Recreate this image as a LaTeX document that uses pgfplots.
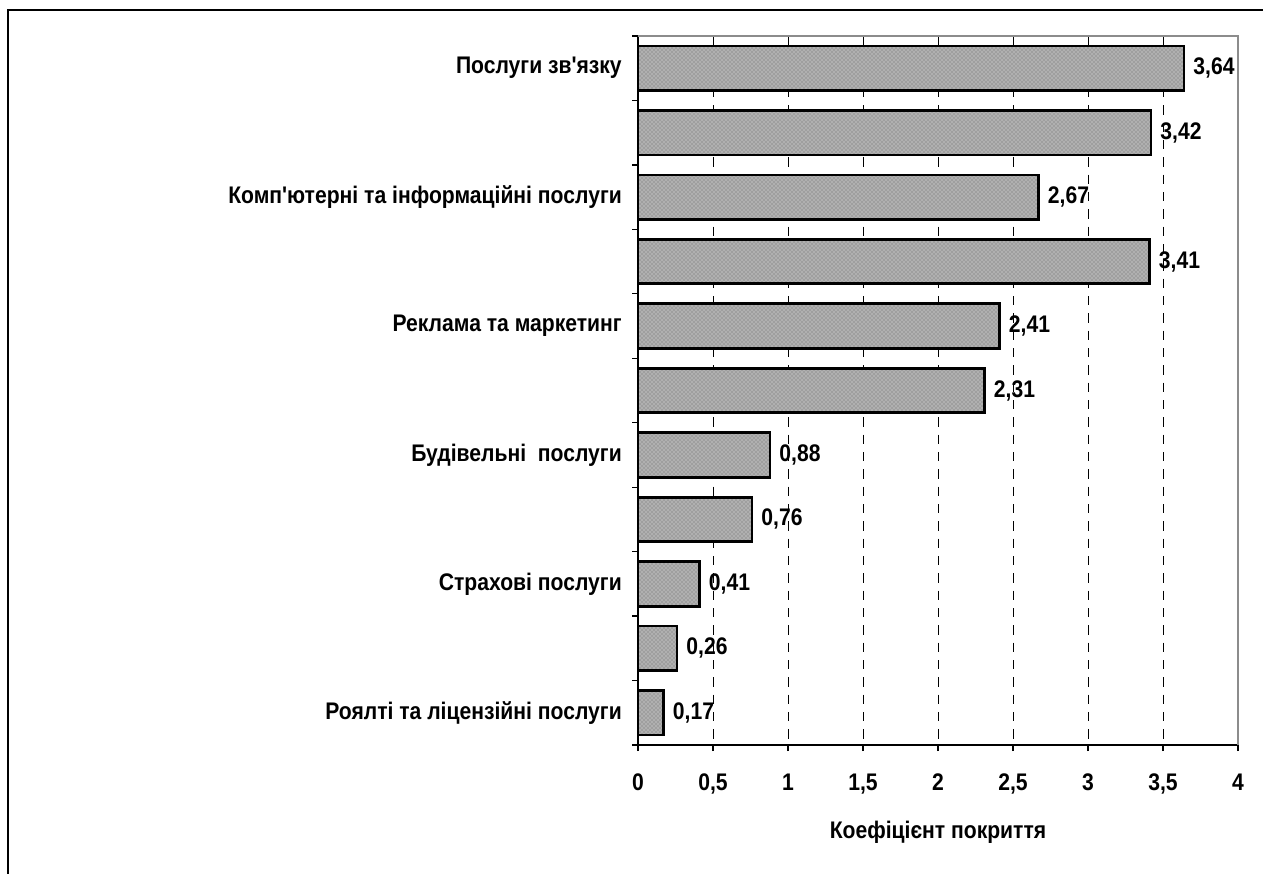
\documentclass[border=0pt]{standalone}
\usepackage{fontspec}
\setmainfont{Liberation Sans}[FakeStretch=0.88, Ligatures=TeXOff]
\usepackage{pgfplots}
\pgfplotsset{compat=1.18}
\usetikzlibrary{patterns}
\pgfplotstableread{
idx val
0 3.64
1 3.42
2 2.67
3 3.41
4 2.41
5 2.31
6 0.88
7 0.76
8 0.41
9 0.26
10 0.17
}\datatable
\begin{document}
\fontsize{18}{21}\selectfont\bfseries
\begin{tikzpicture}
\useasboundingbox (0pt,0pt) rectangle (947.25pt,655.5pt);
\draw[line width=1.2pt] (6pt,-40pt) -- (6pt,648pt) -- (990pt,648pt);
\begin{axis}[
  at={(478.5pt,96.75pt)}, anchor=south west,
  scale only axis, width=450pt, height=531.75pt,
  xmin=0, xmax=4, ymin=-0.5, ymax=10.5, y dir=reverse,
  xbar, bar width=0.69,
  axis x line*=bottom, axis y line*=left,
  axis line style={line width=1.2pt, black, -},
  xtick={0,0.5,...,4},
  xticklabels={0,{0,5},1,{1,5},2,{2,5},3,{3,5},4},
  ytick={-0.5,0.5,...,10.5},
  yticklabels={},
  extra y ticks={0,2,4,6,8,10},
  extra y tick labels={Послуги зв'язку, Комп'ютерні та інформаційні послуги, Реклама та маркетинг, Будівельні\ \ послуги, Страхові послуги, Роялті та ліцензійні послуги},
  extra y tick style={tick style={draw=none}, grid=none},
  tick align=outside,
  tick style={black, line width=1pt},
  major tick length=4.5pt,
  xmajorgrids,
  major grid style={black, line width=0.6pt, dash pattern=on 7pt off 6pt},
  xticklabel style={inner sep=0pt, yshift=-17pt},
  yticklabel style={inner sep=0pt, xshift=-7.5pt},
  xlabel={Коефіцієнт покриття},
  xlabel style={at={(axis description cs:0.5,0)}, anchor=center, yshift=-65.5pt},
  /pgf/number format/assume math mode=true,
  nodes near coords,
  nodes near coords style={anchor=west, inner sep=0pt, xshift=6pt,
    /pgf/number format/.cd, fixed, fixed zerofill, precision=2, use comma, assume math mode=true},
  clip=false,
]
\addplot[draw=black, line width=2.1pt, fill=gray!75,
  postaction={pattern=crosshatch dots, pattern color=white!85!gray}]
  table[x=val, y=idx] {\datatable};
\draw[gray!90, line width=2.2pt] (axis cs:0,-0.5) -- (axis cs:4,-0.5) -- (axis cs:4,10.5);
\end{axis}
\end{tikzpicture}
\end{document}
